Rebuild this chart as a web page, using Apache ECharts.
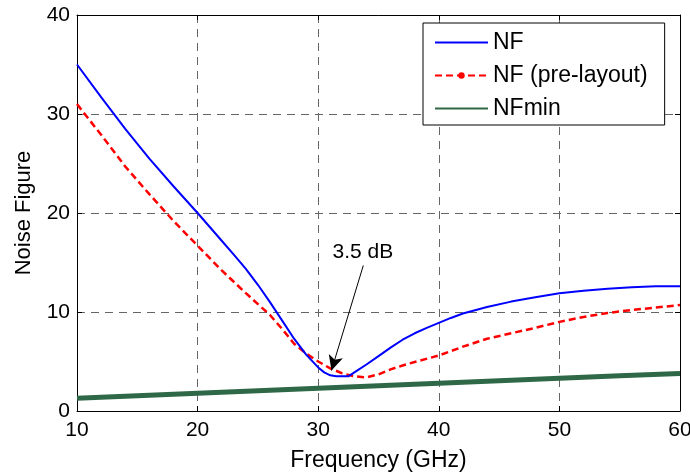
<!DOCTYPE html>
<html>
<head>
<meta charset="utf-8">
<script src="https://cdn.jsdelivr.net/npm/echarts@6/dist/echarts.min.js"></script>
<style>
  html, body { margin: 0; padding: 0; background: #fff; }
  #chart { width: 690px; height: 474px; }
</style>
</head>
<body>
<div id="chart"></div>
<script>
// values
const nfFreq = [10, 12, 14, 16, 18, 20, 22, 23, 24, 25, 26, 27, 28, 29, 30, 30.5, 31, 31.5, 32, 32.5, 33, 34, 35, 36, 37, 38, 39, 40, 41, 42, 44, 46, 48, 50, 52, 54, 56, 58, 60];
const nf = [35.0, 31.7, 28.5, 25.5, 22.7, 20.0, 17.2, 15.8, 14.35, 12.75, 11.0, 9.15, 7.3, 5.7, 4.4, 3.9, 3.6, 3.5, 3.5, 3.5, 3.9, 4.7, 5.55, 6.4, 7.2, 7.85, 8.4, 8.9, 9.4, 9.85, 10.5, 11.05, 11.5, 11.9, 12.15, 12.35, 12.5, 12.6, 12.6];

const preFreq = [10, 12, 14, 16, 18, 20, 22, 24, 26, 27, 28, 29, 30, 31, 32, 33, 34, 35, 36, 37, 38, 40, 42, 44, 46, 48, 50, 52, 54, 56, 58, 60];
const nfPre = [31.0, 27.9, 24.7, 21.9, 19.2, 16.7, 14.2, 11.9, 9.7, 8.3, 6.8, 5.8, 5.0, 4.3, 3.8, 3.5, 3.4, 3.7, 4.2, 4.6, 4.95, 5.6, 6.5, 7.3, 7.85, 8.4, 9.0, 9.5, 9.9, 10.2, 10.45, 10.7];

const minFreq = [10, 15, 20, 25, 30, 35, 40, 45, 50, 55, 60];
const nfMin = [1.3, 1.55, 1.8, 2.05, 2.3, 2.55, 2.8, 3.05, 3.3, 3.55, 3.8];

const xTicks = [10, 20, 30, 40, 50, 60];
const yTicks = [0, 10, 20, 30, 40];

const pair = (xs, ys) => xs.map((x, i) => [x, ys[i]]);

const font = 'Liberation Sans, Arial, Helvetica, sans-serif';
const gridDash = { color: '#666', width: 1, type: [8, 6] };

const chart = echarts.init(document.getElementById('chart'));

const baseX = {
  type: 'value', min: xTicks[0], max: xTicks[xTicks.length - 1], interval: 10,
  axisLine: { show: true, onZero: false, lineStyle: { color: '#000', width: 1 } },
  axisTick: { show: true, inside: true, length: 5, lineStyle: { color: '#000' } }
};
const baseY = {
  type: 'value', min: yTicks[0], max: yTicks[yTicks.length - 1], interval: 10,
  axisLine: { show: true, lineStyle: { color: '#000', width: 1 } },
  axisTick: { show: true, inside: true, length: 5, lineStyle: { color: '#000' } }
};

chart.setOption({
  animation: false,
  backgroundColor: '#fff',
  textStyle: { fontFamily: font },
  grid: { left: 77, right: 10, top: 15, bottom: 63, outerBoundsMode: 'none' },
  xAxis: [
    Object.assign({}, baseX, {
      position: 'bottom',
      name: 'Frequency (GHz)', nameLocation: 'middle', nameGap: 38,
      nameTextStyle: { color: '#000', fontSize: 23, fontFamily: font },
      axisLabel: { color: '#000', fontSize: 21, margin: 9, fontFamily: font },
      splitLine: { show: true, lineStyle: gridDash }
    }),
    Object.assign({}, baseX, {
      position: 'top',
      axisLabel: { show: false }, splitLine: { show: false }
    })
  ],
  yAxis: [
    Object.assign({}, baseY, {
      position: 'left',
      name: 'Noise Figure', nameLocation: 'middle', nameGap: 42,
      nameTextStyle: { color: '#000', fontSize: 22, fontFamily: font },
      axisLabel: { color: '#000', fontSize: 21, margin: 7, fontFamily: font },
      splitLine: { show: true, lineStyle: gridDash }
    }),
    Object.assign({}, baseY, {
      position: 'right',
      axisLabel: { show: false }, splitLine: { show: false }
    })
  ],
  legend: {
    left: 423, top: 23, orient: 'vertical',
    backgroundColor: '#fff', borderColor: '#000', borderWidth: 1, borderRadius: 0,
    padding: [8, 17, 5, 11], itemGap: 10, itemWidth: 53, itemHeight: 8,
    textStyle: { color: '#000', fontSize: 23, fontFamily: font },
    data: [
      { name: 'NF', itemStyle: { opacity: 0 } },
      { name: 'NF (pre-layout)' },
      { name: 'NFmin', itemStyle: { opacity: 0 } }
    ]
  },
  series: [
    {
      name: 'NFmin', type: 'line', data: pair(minFreq, nfMin),
      symbol: 'none', z: 2,
      lineStyle: { color: '#2e6846', width: 5 }, itemStyle: { color: '#2e6846' }
    },
    {
      name: 'NF (pre-layout)', type: 'line', data: pair(preFreq, nfPre),
      symbol: 'circle', symbolSize: 6, showSymbol: false, z: 3,
      lineStyle: { color: '#ff0000', width: 2.5, type: [7, 4] }, itemStyle: { color: '#ff0000' }
    },
    {
      name: 'NF', type: 'line', data: pair(nfFreq, nf),
      symbol: 'none', z: 4,
      lineStyle: { color: '#0000ff', width: 2 }, itemStyle: { color: '#0000ff' },
      markLine: {
        silent: true, animation: false,
        symbol: ['none', 'arrow'], symbolSize: [11, 15],
        lineStyle: { color: '#000', width: 1, type: 'solid' },
        label: { show: false },
        data: [[{ coord: [33.74, 14.7] }, { coord: [31.1, 4.1] }]]
      },
      markPoint: {
        silent: true, symbol: 'circle', symbolSize: 1,
        itemStyle: { color: 'rgba(0,0,0,0)' },
        label: { show: true, formatter: '3.5 dB', color: '#000', fontSize: 21, fontFamily: font, position: 'inside' },
        data: [{ coord: [33.7, 16.0] }]
      }
    }
  ]
});
</script>
</body>
</html>
